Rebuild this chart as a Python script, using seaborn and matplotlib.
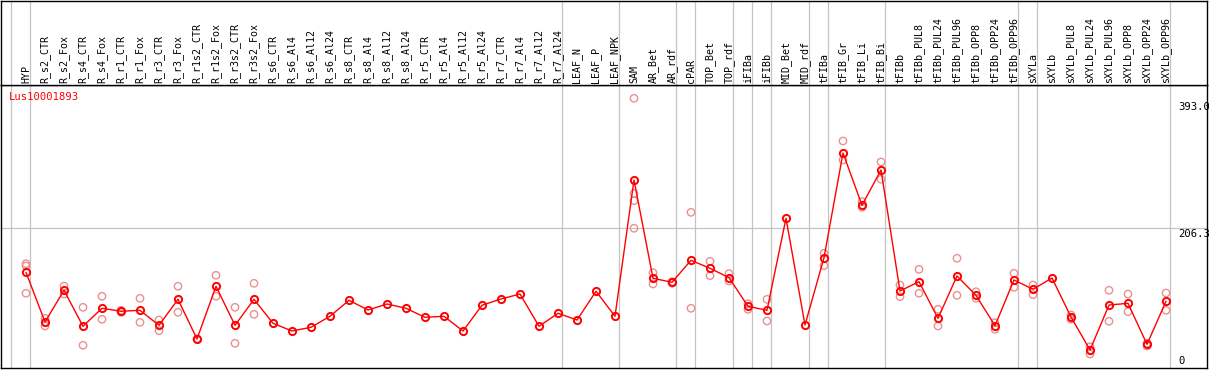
import numpy as np
import seaborn as sns
import matplotlib.pyplot as plt
import pandas as pd

GENE = "Lus10001893"

samples = [
    "HYP", "R_s2_CTR", "R_s2_Fox", "R_s4_CTR", "R_s4_Fox", "R_r1_CTR", "R_r1_Fox",
    "R_r3_CTR", "R_r3_Fox", "R_r1s2_CTR", "R_r1s2_Fox", "R_r3s2_CTR", "R_r3s2_Fox",
    "R_s6_CTR", "R_s6_Al4", "R_s6_Al12", "R_s6_Al24", "R_s8_CTR", "R_s8_Al4",
    "R_s8_Al12", "R_s8_Al24", "R_r5_CTR", "R_r5_Al4", "R_r5_Al12", "R_r5_Al24",
    "R_r7_CTR", "R_r7_Al4", "R_r7_Al12", "R_r7_Al24", "LEAF_N", "LEAF_P", "LEAF_NPK",
    "SAM", "AR_Bet", "AR_rdf", "cPAR", "TOP_Bet", "TOP_rdf", "iFIBa", "iFIBb",
    "MID_Bet", "MID_rdf", "tFIBa", "tFIB_Gr", "tFIB_Li", "tFIB_Bi", "tFIBb",
    "tFIBb_PUL8", "tFIBb_PUL24", "tFIBb_PUL96", "tFIBb_OPP8", "tFIBb_OPP24",
    "tFIBb_OPP96", "sXYLa", "sXYLb", "sXYLb_PUL8", "sXYLb_PUL24", "sXYLb_PUL96",
    "sXYLb_OPP8", "sXYLb_OPP24", "sXYLb_OPP96",
]

mean_expr = [
    141.0, 67.8, 114.5, 61.5, 88.0, 83.6, 85.0, 62.9, 101.2, 42.7, 120.4, 62.9, 101.2,
    65.9, 54.5, 60.0, 76.2, 99.8, 85.5, 94.3, 88.0, 74.7, 76.2, 54.5, 92.4,
    101.7, 109.0, 61.5, 80.6, 70.7, 113.0, 76.2,
    277.0, 132.2, 126.3, 158.7, 146.9, 133.1, 90.9, 85.0, 220.6, 63.4,
    162.5, 316.8, 239.8, 291.8, 113.5, 127.2, 73.2, 135.6, 107.1, 62.3, 129.7,
    116.0, 132.6, 75.2, 26.5, 92.8, 95.3, 34.9, 98.3,
]

rep_expr = [
    [153.7, 150.3, 110.1], [73.2, 61.9], [120.8, 109.0], [89.4, 33.5], [105.7, 71.8],
    [85.0, 82.0], [102.7, 67.3], [70.7, 55.0], [120.4, 82.1], [43.0, 42.4],
    [136.6, 105.7], [89.4, 36.4], [124.8, 79.1],
    [], [], [], [], [], [], [], [], [], [], [], [], [], [], [], [], [], [], [],
    [397.4, 257.4, 246.5, 205.9], [140.4, 123.8], [127.0, 125.0], [229.4, 88.0],
    [157.2, 136.0], [139.0, 128.2], [94.8, 86.5], [101.2, 69.3], [], [],
    [169.0, 150.8], [334.5, 306.5], [245.1, 236.8], [303.6, 278.1], [122.3, 105.1],
    [145.4, 110.1], [86.5, 61.9], [161.7, 107.1], [112.4, 102.7], [66.8, 57.0],
    [139.6, 118.9], [122.3, 108.0], [], [78.1, 71.8], [31.4, 20.6], [114.5, 68.8],
    [109.0, 83.0], [36.4, 32.4], [110.5, 85.0],
]

# group boundaries (separator drawn after these sample indices)
group_ends = [-1, 0, 28, 31, 34, 35, 37, 38, 39, 41, 42, 45, 52, 53, 60]

y_ticks = [393.0, 206.3, 0]

mean_df = pd.DataFrame({"x": np.arange(len(samples)), "value": mean_expr})
rep_df = pd.DataFrame(
    [(i, v) for i, vals in enumerate(rep_expr) for v in vals], columns=["x", "value"]
)

sns.set_style("white")
plt.rcParams["font.family"] = ["DejaVu Sans Mono"]
plt.rcParams["text.color"] = "black"

W, H = 1209, 370
fig = plt.figure(figsize=(W / 100, H / 100), dpi=100)
ax = fig.add_axes([1 / W, 2 / H, 1206 / W, 283 / H])
axh = fig.add_axes([1 / W, 285 / H, 1206 / W, 84.5 / H])

xlim = ((1 - 26) / 19, (1207 - 26) / 19)
for a in (ax, axh):
    a.set_xlim(*xlim)
    a.set_xticks([])
    a.set_yticks([])
    for sp in a.spines.values():
        sp.set_color("black")
        sp.set_linewidth(1.0)
    for g in group_ends:
        a.axvline(g + 0.2, color="#c4c4c4", lw=0.9, zorder=0)

ax.set_ylim(0, 417)
axh.set_ylim(0, 1)
ax.axhline(206.3, color="#c4c4c4", lw=0.9, zorder=0)

sns.scatterplot(
    data=rep_df, x="x", y="value", ax=ax, marker="o", s=28,
    facecolor="none", edgecolor="#ea9090", linewidth=1.0, zorder=2,
)
sns.lineplot(
    data=mean_df, x="x", y="value", ax=ax, color="red", lw=1.0, sort=False,
    estimator=None, marker="o", markersize=5.2, markerfacecolor="none",
    markeredgecolor="red", markeredgewidth=1.4, zorder=3,
)
ax.set_xlabel("")
ax.set_ylabel("")

for i, name in enumerate(samples):
    axh.text(i, 2 / 85, name, rotation=90, ha="center", va="bottom",
             fontsize=7.2, color="black")

ax.text(8 / 1206, 1 - 12 / 283, GENE, transform=ax.transAxes, color="red",
        ha="left", va="center", fontsize=7.6)

tx = (1178 - 26) / 19
ax.text(tx, y_ticks[0] - 1, f"{y_ticks[0]:.1f}", ha="left", va="top",
        fontsize=7.6, color="black")
ax.text(tx, y_ticks[1] - 1, f"{y_ticks[1]:.1f}", ha="left", va="top",
        fontsize=7.6, color="black")
ax.text(tx, y_ticks[2] + 3, f"{y_ticks[2]:g}", ha="left", va="bottom",
        fontsize=7.6, color="black")

fig.savefig("out.png", dpi=100)
